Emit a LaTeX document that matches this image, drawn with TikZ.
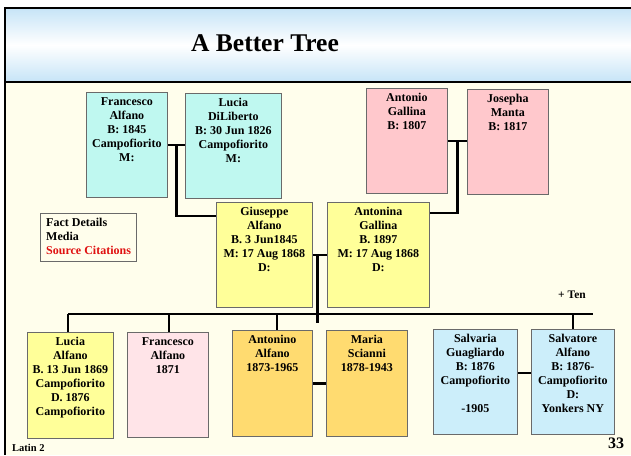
\documentclass[tikz,border=0pt]{standalone}
\usepackage{fontspec}
\setmainfont{Liberation Serif}
\usetikzlibrary{calc}
\definecolor{cream}{HTML}{FFFEEC}
\definecolor{titleblue}{HTML}{C6E4F7}
\definecolor{cyanbox}{HTML}{BFF8F0}
\definecolor{pinkbox}{HTML}{FFC8CC}
\definecolor{yellowbox}{HTML}{FFFF99}
\definecolor{lpinkbox}{HTML}{FFE4E8}
\definecolor{orangebox}{HTML}{FFDB70}
\definecolor{lbluebox}{HTML}{CCEEFA}
\definecolor{boxline}{HTML}{6A6A6A}
\definecolor{citered}{HTML}{E01010}
\begin{document}
\begin{tikzpicture}[x=1pt,y=-1pt,
  box/.style={draw=boxline, line width=0.8pt, inner sep=0pt, anchor=north west},
  lbl/.style={anchor=north, align=center, inner sep=0pt, font=\bfseries\fontsize{12}{14}\selectfont},
  link/.style={line width=2.7pt, black},
  frameline/.style={line width=2.5pt, black}]
\useasboundingbox (0,0) rectangle (631,455);
\fill[white] (0,0) rectangle (631,455);
% backgrounds
\fill[cream] (5,82) rectangle (631,455);
\shade[top color=titleblue, bottom color=titleblue, middle color=white] (5,8) rectangle (631,82);
\draw[frameline] (4,8) -- (631,8);
\draw[frameline] (5,8) -- (5,455);
\draw[frameline] (5,82) -- (631,82);
\node[font=\bfseries\fontsize{25.5}{28}\selectfont, inner sep=0pt] (title) at (265,43) {A Better Tree};

% grandparents
\node[box, fill=cyanbox, minimum width=81pt, minimum height=105pt] (fa) at (86,92) {};
\node[lbl] (fat) at ($(fa.north)+(0,5)$) {Francesco\\Alfano\\B: 1845\\Campofiorito\\M:};
\node[box, fill=cyanbox, minimum width=96pt, minimum height=105pt] (ld) at (185,93) {};
\node[lbl] (ldt) at ($(ld.north)+(0,5)$) {Lucia\\DiLiberto\\B: 30 Jun 1826\\Campofiorito\\M:};
\node[box, fill=pinkbox, minimum width=81pt, minimum height=105pt] (ag) at (366,88) {};
\node[lbl] (agt) at ($(ag.north)+(0,5)$) {Antonio\\Gallina\\B: 1807};
\node[box, fill=pinkbox, minimum width=81pt, minimum height=105pt] (jm) at (467,89) {};
\node[lbl] (jmt) at ($(jm.north)+(0,5)$) {Josepha\\Manta\\B: 1817};

% parents
\node[box, fill=yellowbox, minimum width=96pt, minimum height=105pt] (gi) at (216,202) {};
\node[lbl] (git) at ($(gi.north)+(0,5)$) {Giuseppe\\Alfano\\B. 3 Jun1845\\M: 17 Aug 1868\\D:};
\node[box, fill=yellowbox, minimum width=102pt, minimum height=105pt] (an) at (327,202) {};
\node[lbl] (ant) at ($(an.north)+(0,5)$) {Antonina\\Gallina\\B. 1897\\M: 17 Aug 1868\\D:};

% fact box
\node[box, draw=boxline, fill=cream, minimum width=96pt, minimum height=48pt] (fd) at (40,213) {};
\node[anchor=north west, align=left, inner sep=0pt, font=\bfseries\fontsize{12}{14}\selectfont] (fdt) at ($(fd.north west)+(6,5)$) {Fact Details\\Media\\\textcolor{citered}{Source Citations}};

\node[font=\bfseries\fontsize{11.5}{13}\selectfont, inner sep=0pt] (ten) at (572,295) {+ Ten};

% children
\node[box, fill=yellowbox, minimum width=86pt, minimum height=106pt] (lu) at (27,332) {};
\node[lbl] (lut) at ($(lu.north)+(0,5)$) {Lucia\\Alfano\\B. 13 Jun 1869\\Campofiorito\\D. 1876\\Campofiorito};
\node[box, fill=lpinkbox, minimum width=81pt, minimum height=105pt] (fc) at (127,332) {};
\node[lbl] (fct) at ($(fc.north)+(0,5)$) {Francesco\\Alfano\\1871};
\node[box, fill=orangebox, minimum width=80pt, minimum height=106pt] (ao) at (232,330) {};
\node[lbl] (aot) at ($(ao.north)+(0,5)$) {Antonino\\Alfano\\1873-1965};
\node[box, fill=orangebox, minimum width=81pt, minimum height=106pt] (ms) at (326,330) {};
\node[lbl] (mst) at ($(ms.north)+(0,5)$) {Maria\\Scianni\\1878-1943};
\node[box, fill=lbluebox, minimum width=84pt, minimum height=105pt] (sa) at (433,329) {};
\node[lbl] (sat) at ($(sa.north)+(0,5)$) {Salvaria\\Guagliardo\\B: 1876\\Campofiorito\\\strut\\-1905};
\node[box, fill=lbluebox, minimum width=83pt, minimum height=105pt] (sv) at (531,329) {};
\node[lbl] (svt) at ($(sv.north)+(0,5)$) {Salvatore\\Alfano\\B: 1876-\\Campofiorito\\D:\\Yonkers NY};

% footer
\node[anchor=west, font=\bfseries\fontsize{10.5}{12}\selectfont, inner sep=0pt] (latin) at (12,448) {Latin 2};
\node[font=\bfseries\fontsize{16}{18}\selectfont, inner sep=0pt] (page) at (616,443) {33};

% connectors
\coordinate (m1) at ($(fa.east)!0.5!(ld.west)$);
\draw[link] (fa.east) -- (fa.east -| ld.west);
\draw[link] (m1) |- ($(gi.north west)+(0,14)$);
\coordinate (m2) at ($(ag.east)!0.5!(jm.west)$);
\draw[link] (ag.east) -- (ag.east -| jm.west);
\draw[link] (m2) |- ($(an.north east)+(0,11)$);
\coordinate (m3) at ($(gi.east)!0.35!(an.west)$);
\draw[link] (gi.east) -- (an.west);
\coordinate (barL) at (68,314);
\coordinate (barR) at (593,314);
\draw[link] (m3) -- (m3 |- 0,323);
\draw[link] (barL) -- (barR);
\draw[link] (barL) -- (barL |- lu.north);
\draw[link] (barL -| 169,0) -- (169,0 |- fc.north);
\draw[link] (barL -| 277,0) -- (277,0 |- ao.north);
\draw[link] (barL -| sv.north) -- (sv.north);
\draw[link] (ao.east) -- (ms.west);
\draw[link] ($(sa.north east)+(0,44)$) -- ($(sv.north west)+(0,44)$);
\end{tikzpicture}
\end{document}
